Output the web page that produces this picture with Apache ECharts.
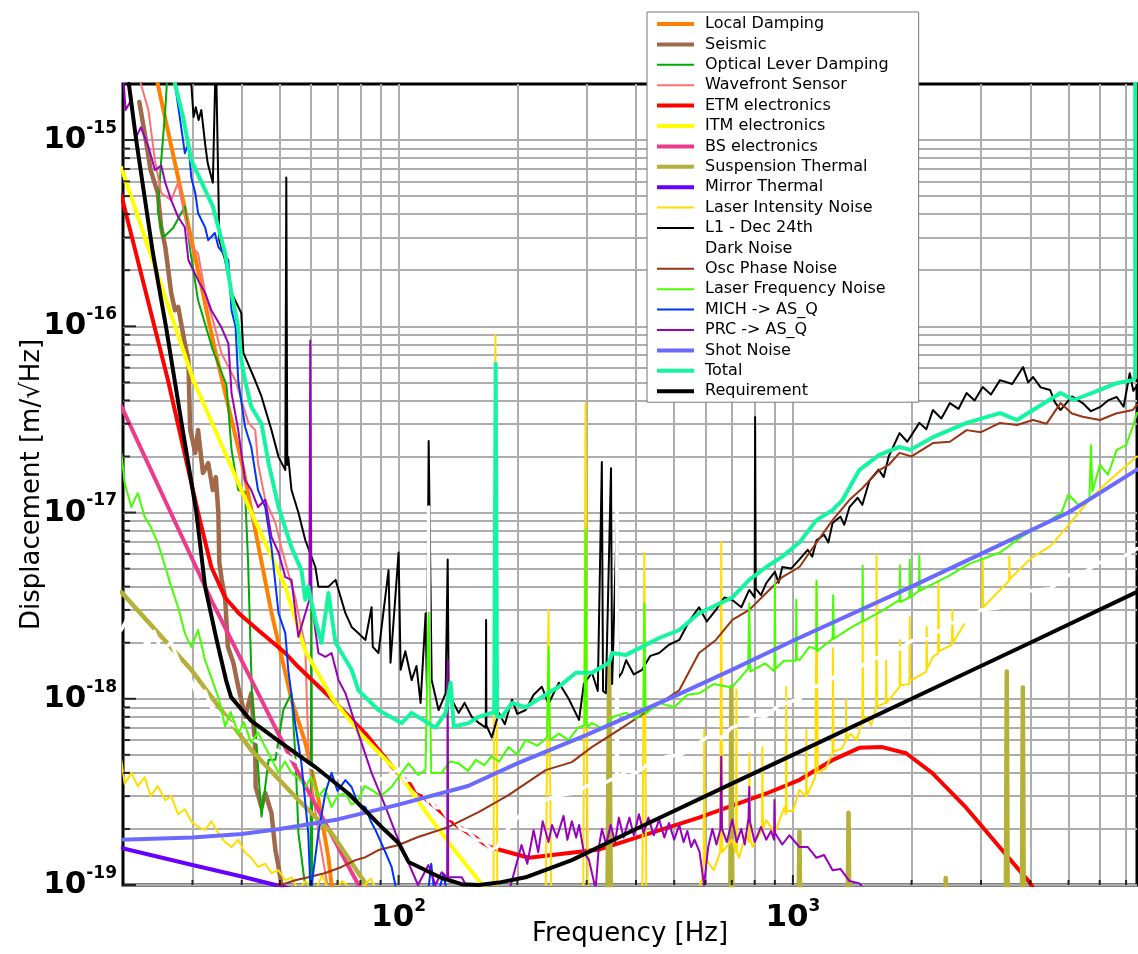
<!DOCTYPE html>
<html><head><meta charset="utf-8">
<script src="https://cdn.jsdelivr.net/npm/echarts@6/dist/echarts.min.js"></script>
<style>html,body{margin:0;padding:0;background:#fff}#c{width:1138px;height:954px}</style>
</head><body><div id="c"></div>
<script>
// ---------- data: [frequency Hz, displacement m/rtHz] ----------
const localDamping = [[24.0,2.6e-15],[24.5,2.0e-15],[28.9,4.0e-16],[34.2,7.5e-17],[40.4,1.7e-17],[47.6,2.9e-18],[53.5,9.9e-19],[58.0,5.8e-19],[62.6,2.9e-19],[66.4,1.4e-19],[67.6,1.0e-19],[69,8e-20]];
const seismic = [[22.0,1.6e-15],[22.7,1.09e-15],[23.5,6.9e-16],[24.5,5.2e-16],[25.0,3.4e-16],[25.6,2.67e-16],[26.5,1.51e-16],[27.1,1.22e-16],[27.6,1.27e-16],[28.7,8.1e-17],[29.3,6.6e-17],[29.6,2.8e-17],[30.5,2.09e-17],[31.0,2.77e-17],[31.9,1.63e-17],[32.9,1.84e-17],[33.8,1.32e-17],[34.4,1.55e-17],[34.9,1.0e-17],[35.1,5.4e-18],[35.6,4.35e-18],[36.3,3.5e-18],[36.9,1.9e-18],[38.1,1.56e-18],[39.2,1.16e-18],[40.8,8.0e-19],[42.3,1.07e-18],[43.3,5.3e-19],[43.4,3.36e-19],[44.9,2.62e-19],[45.9,3.12e-19],[47.6,2.43e-19],[48.7,1.54e-19],[49.6,1.25e-19],[50.4,1.02e-19],[51.5,8e-20]];
const opticalLever = [[25.9,2.2e-15],[25.6,1.45e-15],[25.0,7.8e-16],[24.5,4.2e-16],[25.3,3.0e-16],[26.8,3.37e-16],[28.7,4.4e-16],[29.6,2.57e-16],[31.0,1.38e-16],[33.8,7.45e-17],[36.6,4.84e-17],[37.7,2.17e-17],[39.2,1.32e-17],[40.8,1.29e-17],[41.5,5.6e-18],[42.5,9.9e-19],[43.3,7.1e-19],[44.9,2.33e-19],[46.8,4.7e-19],[48.7,4.7e-19],[51.0,8.7e-19],[53.5,1.07e-18],[54.8,4.7e-19],[55.7,1.9e-19],[57.7,1.06e-19],[59.0,1.0e-19],[59.8,9e-20],[60.1,4.0e-18],[60.4,8e-20]];
const wavefront = [[21.4,2.4e-15],[22.2,2.0e-15],[23.2,1.45e-15],[24.1,7.8e-16],[25.0,5.2e-16],[26.5,4.76e-16],[27.6,5.9e-16],[28.7,3.86e-16],[29.8,2.67e-16],[31.0,2.47e-16],[32.3,1.51e-16],[34.2,9.9e-17],[35.5,7.2e-17],[38.6,5.1e-17],[41.6,3.03e-17],[43.3,2.77e-17],[44.0,1.84e-17],[45.9,1.17e-17],[48.7,8.8e-18],[50.4,6.5e-18],[52.5,4.73e-18],[54.7,3.5e-18],[55.7,2.88e-18],[58.0,1.9e-18],[58.5,1.0e-18],[59.2,5.0e-19],[60.1,3.6e-19],[62.6,1.9e-19],[65.2,1.15e-19],[66.5,9e-20]];
const etmElectronics = [[19.8,5.07e-16],[26.0,5.15e-17],[31.0,1.0e-17],[33.5,5.1e-18],[36.3,3.5e-18],[39.2,2.9e-18],[44.0,2.34e-18],[51.6,1.76e-18],[55.7,1.48e-18],[67.6,1.0e-18],[82.4,6.5e-19],[98.3,4.1e-19],[115,3.0e-19],[140,2.1e-19],[170,1.6e-19],[214,1.4e-19],[322,1.55e-19],[578,2.3e-19],[857,3.1e-19],[1040,3.67e-19],[1264,4.7e-19],[1474,5.45e-19],[1686,5.5e-19],[1937,5.1e-19],[2255,4.0e-19],[2751,2.6e-19],[3342,1.6e-19],[3990,1.03e-19],[4300,8e-20]];
const itmElectronics = [[19.8,7.1e-16],[30.2,5.1e-17],[42.3,1.0e-17],[51.6,4.0e-18],[58,1.8e-18],[68,1.0e-18],[80,6.5e-19],[100,4.0e-19],[120,2.3e-19],[140,1.5e-19],[160,1.05e-19],[170,9e-20]];
const bsElectronics = [[19.8,3.73e-17],[33.5,3.39e-18],[53.5,4.7e-19],[79.1,1.0e-19],[85,7e-20]];
const suspensionThermal = [[19.8,3.74e-18],[29.8,1.43e-18],[42.3,5.3e-19],[55.7,2.86e-19],[67.6,1.9e-19],[82.4,1.02e-19],[86,8e-20],
 [338,5e-20],[342,1.5e-18],[346,5e-20],[693,5e-20],[698,1.16e-18],[703,5e-20],[1032,5e-20],[1039,1.93e-19],[1046,5e-20],
 [1375,5e-20],[1384,2.44e-19],[1393,5e-20],[2425,5e-20],[2441,1.09e-19],[2457,5e-20],[3465,5e-20],[3487,1.4e-18],[3509,5e-20],
 [3805,5e-20],[3830,1.15e-18],[3855,5e-20]];
const mirrorThermal = [[19.8,1.58e-19],[30,1.28e-19],[40,1.11e-19],[48.7,1.0e-19],[60,9e-20]];
const laserIntensity = [[19.8,4.7e-19],[20.2,3.5e-19],[21.0,4.0e-19],[21.8,3.4e-19],[22.7,3.8e-19],[23.5,3.0e-19],[24.5,3.4e-19],[25.6,2.85e-19],[26.5,3.0e-19],[27.6,2.4e-19],[28.7,2.55e-19],[29.8,2.2e-19],[31.0,2.05e-19],[32.3,1.97e-19],[33.5,2.2e-19],[34.9,1.9e-19],[36.3,1.7e-19],[37.7,1.6e-19],[39.2,1.75e-19],[40.8,1.49e-19],[42.3,1.4e-19],[44.0,1.25e-19],[45.9,1.3e-19],[47.6,1.16e-19],[49.6,1.2e-19],[51.6,1.06e-19],[53.5,1.1e-19],[55.7,9.4e-20],[58,1.05e-19],[61,9e-20],[64,1.13e-19],[67,9e-20],[72,1.05e-19],[78,9e-20],[85,1.08e-19],[90,8.5e-20],
 [174,8e-20],[176,9e-17],[178,8e-20],[236,8e-20],[240,3.0e-18],[244,8e-20],[294,8e-20],[298,3.87e-17],[302,8e-20],[415,8e-20],[420,6.1e-18],[425,8e-20],
 [560,8e-20],[590,1.1e-19],[594,1.3e-19],[596,6.8e-19],[598,1.3e-19],[604,1.36e-19],[630,1.2e-19],[654,1.5e-19],[658,6.9e-18],[662,1.5e-19],[702,1.75e-19],[717,1.5e-19],[719,1.12e-18],[721,1.5e-19],[730,1.4e-19],[760,1.9e-19],[774,1.7e-19],[776,5.1e-19],[778,1.8e-19],[790,1.6e-19],[835,2.0e-19],[837,5.5e-19],[839,2.0e-19],[856,2.23e-19],[900,1.9e-19],[950,2.6e-19],[960,2.4e-19],[962,1.16e-18],[964,2.5e-19],[1000,2.5e-19],[1039,3.24e-19],[1080,3.0e-19],[1082,6.8e-19],[1084,3.0e-19],[1140,3.8e-19],[1148,4.1e-18],[1156,4.0e-19],[1210,4.2e-19],[1261,5.1e-19],[1263,1.87e-18],[1268,5.2e-19],[1330,5.4e-19],[1363,6.0e-19],[1365,9.9e-19],[1368,6.0e-19],[1400,6.5e-19],[1450,6.0e-19],[1500,7.5e-19],[1503,2.55e-18],[1508,7.6e-19],[1535,8.0e-19],[1580,7.2e-19],[1627,9.0e-19],[1630,5.9e-18],[1635,9.1e-19],[1721,9.5e-19],[1724,1.6e-18],[1728,9.5e-19],[1864,1.16e-18],[1868,2.07e-18],[1875,1.18e-18],[1975,1.2e-18],[1979,2.75e-18],[1983,1.25e-18],[2050,1.3e-18],[2180,1.4e-18],[2185,2.43e-18],[2190,1.45e-18],[2265,1.68e-18],[2335,1.75e-18],[2340,4.2e-18],[2348,1.8e-18],[2532,1.95e-18],[2539,3.0e-18],[2546,2.0e-18],[2758,2.65e-18],[3025,3.0e-18],[3030,5.5e-18],[3040,3.1e-18],[3352,3.84e-18],[3535,4.3e-18],[3540,5.8e-18],[3548,4.4e-18],[4066,5.8e-18],[4500,6.6e-18],[4965,8.4e-18],[5650,1.17e-17],[6350,1.49e-17],[7460,2.0e-17]];
const l1Dec24 = [[29.6,2.4e-15],[29.8,2.0e-15],[30.2,1.33e-15],[30.6,1.5e-15],[31.1,1.28e-15],[31.6,1.45e-15],[32.3,9.6e-16],[32.8,7.5e-16],[33.8,5.9e-16],[34.4,3e-15],[35.1,2.9e-16],[36.3,2.27e-16],[37.7,1.51e-16],[39.9,1.18e-16],[40.4,7.2e-17],[43.3,5.1e-17],[44.9,4.2e-17],[47.6,2.77e-17],[49.6,1.99e-17],[51.6,1.69e-17],[51.9,6.3e-16],[52.2,1.8e-17],[52.5,1.99e-17],[53.5,1.32e-17],[55.7,1.0e-17],[58.0,7.1e-18],[61.5,5.1e-18],[62.6,4.0e-18],[66.4,4.0e-18],[69.2,4.35e-18],[73.3,2.88e-18],[76.0,2.43e-18],[79.1,2.25e-18],[82.4,2.07e-18],[85.4,3.1e-18],[86,1.9e-18],[88.9,1.76e-18],[94.3,4.9e-18],[95.4,1.56e-18],[100,6.1e-18],[101.2,1.43e-18],[104,1.8e-18],[107.9,1.26e-18],[111,1.5e-18],[113.7,9.5e-19],[117.1,2.88e-18],[118,1.1e-18],[119.2,2.42e-17],[121.3,1.26e-18],[126.3,8.7e-19],[131.6,1.07e-18],[133.2,5.6e-18],[134,1.0e-18],[136.4,9.9e-19],[142,8.4e-19],[147,9.5e-19],[153.2,8.0e-19],[160,7.4e-19],[166.4,7.0e-19],[166.7,2.65e-18],[167,7.2e-19],[172.3,6.2e-19],[179.5,8.4e-19],[186,7.3e-19],[193.9,9.9e-19],[200,8.3e-19],[210,8.7e-19],[220,1.05e-18],[230.9,1.16e-18],[240,9.4e-19],[255,1.22e-18],[270,1.0e-18],[286.8,7.7e-19],[295,1.2e-18],[309.4,1.38e-18],[320,1.1e-18],[327.7,1.87e-17],[330,1.1e-18],[335.5,1.07e-18],[345.7,1.73e-17],[348,1.2e-18],[358,1.0e-17],[361,1.3e-18],[368.4,1.38e-18],[377.6,1.61e-18],[395,1.35e-18],[414.5,1.43e-18],[435,1.7e-18],[458,1.76e-18],[485,1.95e-18],[515,2.07e-18],[545,2.6e-18],[578,3.1e-18],[605,2.6e-18],[638,3.0e-18],[670,3.5e-18],[702,3.39e-18],[740,3.1e-18],[775,3.84e-18],[800,3.5e-18],[802,3.26e-17],[805,3.9e-18],[830,3.6e-18],[856,4.18e-18],[900,4.8e-18],[920,4.2e-18],[940,5.1e-18],[990,5.0e-18],[1039,5.6e-18],[1090,6.3e-18],[1120,5.8e-18],[1148,7.1e-18],[1200,7.6e-18],[1230,6.9e-18],[1261,8.8e-18],[1320,9.5e-18],[1350,8.6e-18],[1392,1.07e-17],[1460,1.2e-17],[1500,1.1e-17],[1565,1.49e-17],[1650,1.7e-17],[1700,1.55e-17],[1750,2.0e-17],[1864,2.67e-17],[1950,2.4e-17],[2093,3.03e-17],[2180,2.8e-17],[2265,3.55e-17],[2380,3.2e-17],[2502,3.87e-17],[2630,3.6e-17],[2758,4.38e-17],[2890,4.0e-17],[3030,4.72e-17],[3180,4.3e-17],[3352,5.14e-17],[3600,4.9e-17],[3836,6.04e-17],[3950,5.0e-17],[4066,5.34e-17],[4250,4.7e-17],[4492,4.55e-17],[4620,3.9e-17],[4773,3.55e-17],[5100,4.2e-17],[5431,3.87e-17],[5700,3.5e-17],[6006,3.68e-17],[6300,4.0e-17],[6626,4.17e-17],[6900,3.7e-17],[7151,5.6e-17],[7300,4.5e-17],[7460,4.8e-17]];
const darkNoise = [[19.8,2.34e-18],[20.5,2.7e-18],[21.2,2.1e-18],[22,2.4e-18],[23,1.9e-18],[24,2.3e-18],[25,1.8e-18],[26.5,2.0e-18],[28,1.5e-18],[29.5,1.3e-18],[31,1.02e-18],[32.3,1.1e-18],[33.5,9e-19],[35,8.4e-19],[37,7.5e-19],[40,6.8e-19],[43,6.0e-19],[46,5.6e-19],[50,5.2e-19],[55,4.6e-19],[60,4.3e-19],[65,4.0e-19],[70,3.8e-19],[75,3.6e-19],[80,3.5e-19],[85,3.6e-19],[90,3.7e-19],[95,3.9e-19],[100,4.2e-19],[104,3.6e-19],[108,3.7e-19],[112,3.2e-19],[116,3.1e-19],[119,2.8e-19],[119.2,1.07e-17],[119.5,2.9e-19],[124,2.6e-19],[128,2.6e-19],[133,2.3e-19],[138,2.25e-19],[144,2.0e-19],[150,1.95e-19],[157,1.75e-19],[164,1.72e-19],[172,1.55e-19],[178,1.6e-19],[186,1.9e-19],[200,2.3e-19],[220,2.7e-19],[250,3.0e-19],[275,3.1e-19],[300,3.4e-19],[330,3.5e-19],[357,3.8e-19],[358,1.0e-17],[359,3.8e-19],[380,4.1e-19],[400,4.0e-19],[440,4.6e-19],[480,4.9e-19],[520,5.0e-19],[578,5.8e-19],[620,6.4e-19],[660,6.2e-19],[700,7.0e-19],[750,7.4e-19],[800,8.2e-19],[850,8.0e-19],[920,9.2e-19],[1040,1.0e-18],[1120,1.15e-18],[1200,1.2e-18],[1300,1.35e-18],[1420,1.4e-18],[1600,1.65e-18],[1750,1.7e-18],[2000,2.05e-18],[2200,2.1e-18],[2500,2.55e-18],[2750,2.6e-18],[3000,3.0e-18],[3400,3.1e-18],[4000,3.8e-18],[4500,3.9e-18],[5000,4.6e-18],[5500,4.8e-18],[6000,5.4e-18],[6700,5.6e-18],[7460,6.4e-18]];
const oscPhase = [[48,9e-20],[48.7,9.8e-20],[54.7,1.06e-19],[59,1.1e-19],[65.2,1.16e-19],[71.7,1.25e-19],[77.7,1.36e-19],[82.4,1.41e-19],[88.9,1.54e-19],[100,1.64e-19],[112,1.81e-19],[134,2.05e-19],[160,2.47e-19],[190,3.04e-19],[236,4.14e-19],[275,4.57e-19],[309,5.5e-19],[362,6.8e-19],[432,8.7e-19],[515,1.11e-18],[578,1.76e-18],[638,2.07e-18],[702,2.65e-18],[775,3.0e-18],[856,3.7e-18],[940,4.5e-18],[1039,5.1e-18],[1148,6.9e-18],[1261,9.1e-18],[1392,1.17e-17],[1500,1.35e-17],[1656,1.69e-17],[1750,1.8e-17],[1864,2.09e-17],[2000,2.0e-17],[2265,2.36e-17],[2500,2.4e-17],[2758,2.77e-17],[3000,2.7e-17],[3352,3.03e-17],[3700,2.95e-17],[4066,3.14e-17],[4400,3.0e-17],[4773,3.87e-17],[5100,3.4e-17],[5431,3.27e-17],[6006,3.14e-17],[6600,3.4e-17],[7271,3.55e-17],[7460,3.8e-17]];
const laserFrequency = [[19.8,2.09e-17],[20.2,1.44e-17],[21.0,1.07e-17],[21.8,1.27e-17],[22.7,9.5e-18],[23.5,8.4e-18],[24.5,6.9e-18],[25.6,5.1e-18],[26.5,4.0e-18],[27.6,3.1e-18],[28.7,2.25e-18],[29.8,1.9e-18],[31.0,2.34e-18],[32.3,1.61e-18],[33.5,1.3e-18],[35,1.0e-18],[36.3,7.1e-19],[37.5,8.5e-19],[39.2,6.5e-19],[40.5,7.5e-19],[42.3,5.8e-19],[44,6.6e-19],[45.9,5.5e-19],[48,4.6e-19],[49.6,4.0e-19],[51.5,4.6e-19],[53.5,4.0e-19],[56,3.7e-19],[58.0,3.36e-19],[60,3.8e-19],[62.6,2.97e-19],[65,3.3e-19],[67.6,2.62e-19],[70,3.0e-19],[73.3,3.12e-19],[76,2.7e-19],[79.1,2.86e-19],[82,3.4e-19],[85.4,3.24e-19],[90,3.0e-19],[96,3.36e-19],[100,3.8e-19],[106,4.5e-19],[112,3.9e-19],[117,4.14e-19],[119.2,2.9e-18],[121,4.0e-19],[128.6,4.0e-19],[135,4.6e-19],[142,4.5e-19],[150,4.1e-19],[157,4.7e-19],[165,4.4e-19],[172,4.9e-19],[180,4.6e-19],[190,5.5e-19],[200,5.0e-19],[210,6.0e-19],[225,5.6e-19],[238,6.2e-19],[240,1.9e-18],[242,6.0e-19],[255,6.5e-19],[270,6.0e-19],[285,7.0e-19],[296,7.2e-19],[298,8.1e-18],[300,7.0e-19],[309,7.4e-19],[330,6.9e-19],[350,8.0e-19],[378,8.4e-19],[400,7.8e-19],[418,8.6e-19],[420,3.25e-18],[423,8.3e-19],[458,9.5e-19],[500,9.0e-19],[540,1.05e-18],[578,1.07e-18],[630,1.2e-18],[700,1.15e-18],[770,1.45e-18],[775,3.25e-18],[780,1.4e-18],[850,1.55e-18],[898,1.4e-18],[900,4.2e-18],[903,1.45e-18],[950,1.6e-18],[1018,1.6e-18],[1020,3.4e-18],[1023,1.65e-18],[1039,1.61e-18],[1100,1.9e-18],[1146,1.85e-18],[1148,4.3e-18],[1152,1.8e-18],[1261,2.1e-18],[1265,3.6e-18],[1270,2.1e-18],[1400,2.4e-18],[1500,2.6e-18],[1503,5.2e-18],[1507,2.6e-18],[1700,3.0e-18],[1864,3.4e-18],[1868,5.2e-18],[1872,3.3e-18],[1975,3.5e-18],[1979,5.6e-18],[1984,3.5e-18],[2088,3.8e-18],[2093,5.9e-18],[2098,3.8e-18],[2200,4.0e-18],[2500,4.6e-18],[2800,5.3e-18],[3352,6.1e-18],[3800,7.4e-18],[4300,8.6e-18],[4800,1.0e-17],[5000,1.25e-17],[5300,1.1e-17],[5650,1.17e-17],[5700,2.3e-17],[5750,1.3e-17],[6006,1.8e-17],[6300,1.6e-17],[6626,2.17e-17],[7000,2.3e-17],[7271,2.88e-17],[7460,3.42e-17]];
const michAsq = [[27.0,2.4e-15],[27.1,2.0e-15],[28.1,1.17e-15],[28.7,8.5e-16],[29.3,9.6e-16],[29.8,6.3e-16],[30.5,5.2e-16],[31.0,4.06e-16],[32.3,3.4e-16],[32.9,2.9e-16],[34.2,3.17e-16],[34.9,2.67e-16],[37.0,2.27e-16],[37.7,1.22e-16],[38.6,9.9e-17],[39.2,5.1e-17],[40.8,2.88e-17],[42.3,2.25e-17],[44.0,1.32e-17],[45.9,1.07e-17],[47.6,6.5e-18],[49.6,2.88e-18],[51.6,2.25e-18],[52.5,1.43e-18],[54.7,7.3e-19],[56.7,4.5e-19],[59.0,1.9e-19],[59.8,9e-20],[62.6,1.9e-19],[65.2,3.12e-19],[67.6,4.0e-19],[70,3.2e-19],[73.3,3.66e-19],[76.0,3.36e-19],[79,2.7e-19],[82.4,2.62e-19],[85,2.2e-19],[87.4,1.97e-19],[92.7,1.49e-19],[96.0,1.25e-19],[98.3,9.8e-20],[118,8e-20],[121,1.3e-19],[124,8e-20],[130,1.15e-19],[134,8e-20]];
const prcAsq = [[20.0,2.3e-15],[20.3,1.45e-15],[21.0,1.64e-15],[21.6,1.04e-15],[22.2,1.17e-15],[23.2,9.2e-16],[24.1,6.9e-16],[25.0,7.3e-16],[25.6,5.9e-16],[26.5,4.76e-16],[27.6,3.86e-16],[28.7,3.4e-16],[29.3,2.27e-16],[31.0,1.77e-16],[32.3,1.51e-16],[33.5,1.22e-16],[35.5,9.9e-17],[37.0,8.1e-17],[37.7,4.38e-17],[39.2,2.77e-17],[40.8,1.49e-17],[42.3,1.32e-17],[44.0,1.07e-17],[45.9,1.17e-17],[47.6,7.4e-18],[49.6,6.1e-18],[51.6,4.5e-18],[53.5,4.35e-18],[55.7,2.15e-18],[58.0,2.88e-18],[59.4,3.4e-18],[59.7,8.4e-17],[60.1,3.4e-18],[62.6,1.76e-18],[65.2,1.68e-18],[67.6,1.76e-18],[70.4,1.26e-18],[73.3,1.07e-18],[79.1,6.5e-19],[85.4,4.0e-19],[92.7,2.62e-19],[98.3,1.9e-19],[106,1.31e-19],[112,1.0e-19],[119,1.28e-19],[124,1.0e-19],[128.6,1.17e-19],[132.8,1.1e-19],[133.2,1.61e-18],[133.6,1.1e-19],[144.6,1.1e-19],[152,9e-20],[190,9e-20],[205,1.64e-19],[212,1.3e-19],[220,1.97e-19],[226,1.5e-19],[232,2.2e-19],[240,1.7e-19],[245,2.1e-19],[252,1.8e-19],[262,2.35e-19],[268,1.75e-19],[275,2.2e-19],[282,1.8e-19],[287,2.1e-19],[295,1.5e-19],[304,1.36e-19],[316,9.5e-20],[322,1.6e-19],[328,2.0e-19],[336,1.65e-19],[345,2.1e-19],[354,1.7e-19],[362,2.3e-19],[372,1.8e-19],[385,2.3e-19],[395,1.85e-19],[407,2.4e-19],[418,1.9e-19],[430,2.3e-19],[444,1.85e-19],[458,2.25e-19],[472,1.8e-19],[485,2.15e-19],[500,1.75e-19],[515,2.1e-19],[528,1.7e-19],[540,1.95e-19],[552,1.6e-19],[563,1.75e-19],[580,1.5e-19],[595,1.0e-19],[610,1.6e-19],[625,2.0e-19],[640,1.65e-19],[655,2.0e-19],[658,4.9e-19],[661,2.0e-19],[680,1.7e-19],[702,2.25e-19],[720,1.7e-19],[740,2.0e-19],[755,1.65e-19],[772,2.3e-19],[775,3.36e-19],[778,2.2e-19],[800,1.7e-19],[830,2.05e-19],[856,1.75e-19],[880,1.95e-19],[896,1.75e-19],[898,2.86e-19],[901,1.9e-19],[940,1.65e-19],[980,1.85e-19],[1039,1.6e-19],[1090,1.6e-19],[1148,1.4e-19],[1200,1.45e-19],[1261,1.2e-19],[1320,1.22e-19],[1392,1.05e-19],[1474,1.02e-19],[1550,9e-20]];
const shotNoise = [[19.8,1.75e-19],[30,1.8e-19],[40,1.88e-19],[50,2.0e-19],[70,2.25e-19],[100,2.7e-19],[150,3.4e-19],[200,4.5e-19],[300,6.4e-19],[500,1.03e-18],[700,1.43e-18],[1000,2.05e-18],[2000,4.0e-18],[3000,6.0e-18],[5000,1.0e-17],[7460,1.7e-17]];
const total = [[27.0,2.4e-15],[27.1,2.0e-15],[28.4,1.33e-15],[29.8,7.8e-16],[32.3,5.4e-16],[33.8,4.4e-16],[34.9,3.4e-16],[36.3,2.47e-16],[37.7,1.5e-16],[39.2,9.9e-17],[39.9,6.6e-17],[40.8,5.1e-17],[42.3,3.7e-17],[44.9,3.0e-17],[46.8,1.84e-17],[49.6,1.07e-17],[53.5,6.5e-18],[56.7,4.9e-18],[58.0,3.4e-18],[59.0,4.0e-18],[61.5,2.65e-18],[63.7,2.0e-18],[66.4,3.7e-18],[69.2,2.0e-18],[76.0,1.43e-18],[79.1,1.11e-18],[88.9,8.7e-19],[101.8,7.4e-19],[107.9,8.4e-19],[124,7.0e-19],[131.6,8.4e-19],[135.5,1.22e-18],[138,7.1e-19],[150.6,7.4e-19],[159.6,8.0e-19],[172.3,8.4e-19],[174.8,8.4e-19],[176.3,6.3e-17],[177.8,8.0e-19],[182.7,8.0e-19],[193.9,9.5e-19],[210,9.0e-19],[230.9,1.02e-18],[255,1.16e-18],[281.6,1.38e-18],[309.4,1.38e-18],[341.7,1.56e-18],[347.8,1.76e-18],[377.6,1.72e-18],[414.5,1.9e-18],[458,2.12e-18],[515,2.34e-18],[578,2.88e-18],[702,3.5e-18],[775,4.35e-18],[856,5.1e-18],[940,5.8e-18],[1039,6.9e-18],[1148,9.1e-18],[1261,1.03e-17],[1337,1.17e-17],[1474,1.69e-17],[1656,2.04e-17],[1864,2.25e-17],[1983,2.17e-17],[2265,2.54e-17],[2758,3.03e-17],[3352,3.42e-17],[3702,3.14e-17],[4066,3.55e-17],[4773,4.38e-17],[5155,4.02e-17],[6006,4.55e-17],[6626,4.95e-17],[7271,5.14e-17],[7380,5.3e-17],[7385,1e-14]];
const requirement = [[20.7,2.0e-15],[21.6,1.0e-15],[23.8,2.5e-16],[25.7,1.0e-16],[28.1,3.1e-17],[30.7,1.0e-17],[32.3,4.0e-18],[34.5,2.1e-18],[36.5,1.26e-18],[37.6,1.02e-18],[42.3,7.6e-19],[50.4,5.8e-19],[61.5,4.3e-19],[74.6,3.1e-19],[90.5,2.05e-19],[100,1.68e-19],[106,1.33e-19],[128.6,1.09e-19],[144.6,1.01e-19],[160,1.0e-19],[179.5,1.03e-19],[210,1.1e-19],[275,1.36e-19],[400,2.0e-19],[700,3.5e-19],[1000,5.0e-19],[2000,1.0e-18],[4000,2.0e-18],[7460,3.75e-18]];

// axis / grid values
const xGridValues = [30,40,50,60,70,80,90,100,200,300,400,500,600,700,800,900,1000,2000,3000,4000,5000,6000,7000];
const yGridMantissas = [1,2,3,4,5,6,7,8,9];
const yGridExponents = [-19,-18,-17,-16];
const yTopGrid = [1e-15];
const xRange = [20, 7460];
const yRange = [1e-19, 2e-15];

const seriesDefs = [
  {name:'Local Damping', data:localDamping, color:'#ff8000', w:4},
  {name:'Seismic', data:seismic, color:'#a06a4a', w:4.5},
  {name:'Optical Lever Damping', data:opticalLever, color:'#00aa00', w:2},
  {name:'Wavefront Sensor', data:wavefront, color:'#ff7070', w:2},
  {name:'ETM electronics', data:etmElectronics, color:'#ff0000', w:4},
  {name:'ITM electronics', data:itmElectronics, color:'#ffff00', w:4},
  {name:'BS electronics', data:bsElectronics, color:'#ee3a8c', w:4},
  {name:'Suspension Thermal', data:suspensionThermal, color:'#b4b038', w:4.5},
  {name:'Mirror Thermal', data:mirrorThermal, color:'#6600ff', w:4},
  {name:'Laser Intensity Noise', data:laserIntensity, color:'#ffdd00', w:2},
  {name:'L1 - Dec 24th', data:l1Dec24, color:'#000000', w:2},
  {name:'Dark Noise', data:darkNoise, color:'#ffffff', w:3.5},
  {name:'Osc Phase Noise', data:oscPhase, color:'#993311', w:2},
  {name:'Laser Frequency Noise', data:laserFrequency, color:'#44ff00', w:2},
  {name:'MICH -> AS_Q', data:michAsq, color:'#0033ff', w:2},
  {name:'PRC -> AS_Q', data:prcAsq, color:'#9900bb', w:2},
  {name:'Shot Noise', data:shotNoise, color:'#6a6aff', w:4},
  {name:'Total', data:total, color:'#14f5a0', w:4},
  {name:'Requirement', data:requirement, color:'#000000', w:4}
];

const yGridValues = [];
yGridExponents.forEach(e => yGridMantissas.forEach(m => yGridValues.push(m * Math.pow(10, e))));
yTopGrid.forEach(v => yGridValues.push(v));

const FONT = 'DejaVu Sans';
function powLabel(v) {
  const e = Math.log10(v);
  if (Math.abs(e - Math.round(e)) > 1e-6) return '';
  return '{b|10}{s|' + Math.round(e) + '}';
}
const richStyle = {
  b: {fontFamily: FONT, fontSize: 31, fontWeight: 'bold', color: '#000', lineHeight: 40},
  s: {fontFamily: FONT, fontSize: 17, fontWeight: 'bold', color: '#000', lineHeight: 22, verticalAlign: 'top'}
};

const gridLineData = xGridValues.map(v => [{coord: [v, yRange[0]]}, {coord: [v, yRange[1]]}])
  .concat(yGridValues.map(v => [{coord: [xRange[0], v]}, {coord: [xRange[1], v]}]));

const series = [];
series.push({
  type: 'line', name: '__grid', data: [], silent: true, z: 1,
  markLine: {
    silent: true, symbol: 'none', z: 1, animation: false,
    label: {show: false},
    lineStyle: {color: '#adadad', width: 2, type: 'solid'},
    emphasis: {disabled: true},
    data: gridLineData
  }
});
seriesDefs.forEach((s, i) => {
  series.push({
    type: 'line', name: s.name, data: s.data, showSymbol: false, symbol: 'none',
    clip: true, silent: true, z: 2 + i * 0.01, animation: false,
    color: s.color,
    lineStyle: {color: s.color, width: s.w, join: 'round', cap: 'round'},
    itemStyle: {color: s.color},
    emphasis: {disabled: true}
  });
});
series.push({
  type: 'scatter', name: '__yticks', silent: true, clip: false, z: 6, animation: false,
  symbol: 'rect', itemStyle: {color: '#000'},
  data: yGridValues.map(v => {
    const major = Math.abs(Math.log10(v) - Math.round(Math.log10(v))) < 1e-6;
    return {value: [xRange[0], v], symbolSize: major ? [13, 2] : [7, 2], symbolOffset: major ? [6.5, 0] : [3.5, 0]};
  })
});
series.push({
  type: 'scatter', name: '__xticks', silent: true, clip: false, z: 6, animation: false,
  symbol: 'rect', itemStyle: {color: '#000'},
  data: xGridValues.map(v => {
    const major = Math.abs(Math.log10(v) - Math.round(Math.log10(v))) < 1e-6;
    return {value: [v, yRange[0]], symbolSize: major ? [2, 10] : [2, 5], symbolOffset: major ? [0, -5] : [0, -2.5]};
  })
});

const chart = echarts.init(document.getElementById('c'), null, {renderer: 'canvas'});
chart.setOption({
  animation: false,
  backgroundColor: '#fff',
  grid: {left: 123, top: 84, right: 1, bottom: 69, containLabel: false, outerBoundsMode: 'none',
         show: true, borderColor: '#000', borderWidth: 3, backgroundColor: 'transparent'},
  xAxis: {
    type: 'log', logBase: 10, min: xRange[0], max: xRange[1],
    name: 'Frequency [Hz]', nameLocation: 'middle', nameGap: 36, nameMoveOverlap: false,
    nameTextStyle: {fontFamily: FONT, fontSize: 26, color: '#000'},
    axisLine: {show: false}, axisTick: {show: false}, splitLine: {show: false},
    axisLabel: {formatter: powLabel, rich: richStyle, margin: 13, showMinLabel: false, showMaxLabel: false}
  },
  yAxis: {
    type: 'log', logBase: 10, min: yRange[0], max: yRange[1],
    name: 'Displacement [m/\u221AHz]', nameLocation: 'middle', nameGap: 78, nameMoveOverlap: false,
    nameTextStyle: {fontFamily: FONT, fontSize: 26, color: '#000'},
    axisLine: {show: false}, axisTick: {show: false}, splitLine: {show: false},
    axisLabel: {formatter: powLabel, rich: richStyle, margin: 6, showMaxLabel: false}
  },
  legend: {
    orient: 'vertical', left: 647, top: 12, z: 20,
    backgroundColor: '#fff', borderColor: '#777', borderWidth: 1,
    padding: [4, 30, 3, 10], itemGap: 4.4, itemWidth: 37, itemHeight: 14,
    selectedMode: false,
    textStyle: {fontFamily: FONT, fontSize: 16, color: '#000', lineHeight: 16, padding: [0, 0, 0, 6]},
    data: seriesDefs.map(s => ({name: s.name, icon: s.w >= 3 ? 'path://M0,0H37V4H0Z' : 'path://M0,0H37V2H0Z'}))
  },
  series: series
});
</script>
</body></html>
